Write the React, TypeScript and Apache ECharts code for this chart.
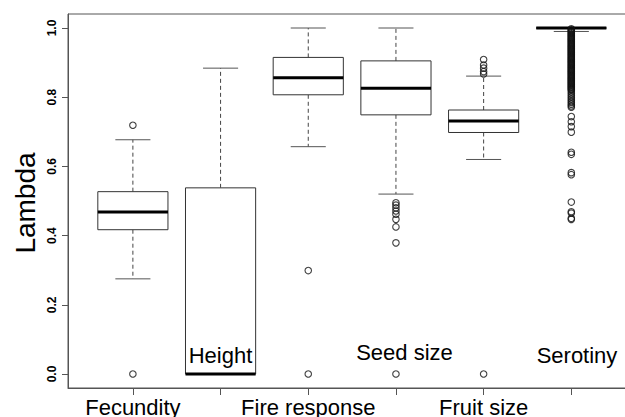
import React, { useEffect, useRef } from "react";
import * as echarts from "echarts";

const categories = ["Fecundity", "Height", "Fire response", "Seed size", "Fruit size", "Serotiny"];
const whiskerLow = [0.275, 0.0, 0.657, 0.52, 0.62, 0.99];
const q1 = [0.417, 0.0, 0.807, 0.749, 0.698, 1.0];
const median = [0.468, 0.0, 0.856, 0.826, 0.731, 1.0];
const q3 = [0.527, 0.538, 0.915, 0.905, 0.763, 1.0];
const whiskerHigh = [0.677, 0.884, 1.0, 1.0, 0.861, 1.0];

const fecundityOutliers = [0.719, 0.0];
const heightOutliers: number[] = [];
const fireOutliers = [0.299, 0.0];
const seedOutliers = [0.495, 0.488, 0.48, 0.471, 0.462, 0.447, 0.425, 0.379, 0.0];
const fruitOutliers = [0.909, 0.893, 0.884, 0.874, 0.867, 0.0];
const serotinyOutliers = [
  0.9975, 0.995, 0.9925, 0.99, 0.9875, 0.985, 0.9825, 0.98, 0.9775, 0.975, 0.9725, 0.97,
  0.9675, 0.965, 0.9625, 0.96, 0.9575, 0.955, 0.9525, 0.95, 0.9475, 0.945, 0.9425, 0.94,
  0.9375, 0.935, 0.9325, 0.93, 0.9275, 0.925, 0.9225, 0.92, 0.9175, 0.915, 0.9125, 0.91,
  0.9075, 0.905, 0.9025, 0.9, 0.8975, 0.895, 0.8925, 0.89, 0.8875, 0.885, 0.8825, 0.88,
  0.8775, 0.875, 0.8725, 0.87, 0.8675, 0.865, 0.8625, 0.86, 0.8575, 0.855, 0.8525, 0.85,
  0.8475, 0.845, 0.8425, 0.84, 0.8375, 0.835, 0.8325, 0.83, 0.8275, 0.825, 0.8225, 0.82,
  0.815, 0.81, 0.805, 0.8, 0.795, 0.79, 0.785, 0.78, 0.775, 0.771, 0.744, 0.729, 0.715,
  0.699, 0.641, 0.635, 0.582, 0.576, 0.497, 0.469, 0.465, 0.45, 0.447,
];
const outliers = [fecundityOutliers, heightOutliers, fireOutliers, seedOutliers, fruitOutliers, serotinyOutliers];

const shownXLabels = ["Fecundity", "Fire response", "Fruit size"];

const FONT = "'Liberation Sans', Arial, sans-serif";
const AXIS_COLOR = "#555";

export default function App() {
  const ref = useRef<HTMLDivElement>(null);
  useEffect(() => {
    if (!ref.current) return;
    const chart = echarts.init(ref.current, null, { renderer: "svg" });
    const boxData = categories.map((_, i) => [i + 1, whiskerLow[i], q1[i], median[i], q3[i], whiskerHigh[i]]);
    const outlierData: number[][] = [];
    outliers.forEach((arr, i) => arr.forEach((v) => outlierData.push([i + 1, v])));
    chart.setOption({
      animation: false,
      grid: [
        {
          left: 68,
          top: 14,
          width: 591,
          height: 374,
          outerBoundsMode: "none",
          show: true,
          borderColor: AXIS_COLOR,
          borderWidth: 1,
          backgroundColor: "rgba(0,0,0,0)",
        },
        { left: 132.9, top: 14, width: 438.5, height: 374, outerBoundsMode: "none" },
        { left: 68, top: 28, width: 100, height: 346, outerBoundsMode: "none" },
      ],
      xAxis: [
        {
          gridIndex: 0,
          type: "value",
          min: 0.26,
          max: 7.0,
          splitLine: { show: false },
          axisLine: { show: true, onZero: false, lineStyle: { color: AXIS_COLOR, width: 1 } },
          axisTick: { show: false },
          axisLabel: { show: false },
        },
        {
          gridIndex: 1,
          type: "value",
          min: 1,
          max: 6,
          interval: 1,
          splitLine: { show: false },
          axisLine: { show: false },
          axisTick: { show: true, length: 7, lineStyle: { color: AXIS_COLOR } },
          axisLabel: {
            formatter: (v: number) => {
              const name = categories[Math.round(v) - 1] || "";
              return shownXLabels.indexOf(name) >= 0 ? name : "";
            },
            fontSize: 22,
            color: "#000",
            fontFamily: FONT,
            margin: 8,
          },
        },
        { gridIndex: 2, type: "value", min: 0, max: 1, show: false },
      ],
      yAxis: [
        {
          gridIndex: 0,
          type: "value",
          min: -0.0405,
          max: 1.0405,
          splitLine: { show: false },
          axisLine: { show: true, onZero: false, lineStyle: { color: AXIS_COLOR, width: 1 } },
          axisTick: { show: false },
          axisLabel: { show: false },
        },
        { gridIndex: 1, type: "value", min: 0, max: 1, show: false },
        {
          gridIndex: 2,
          type: "value",
          min: 0,
          max: 1,
          interval: 0.2,
          splitLine: { show: false },
          axisLine: { show: false },
          axisTick: { show: true, length: 6, lineStyle: { color: AXIS_COLOR } },
          axisLabel: {
            formatter: (v: number) => v.toFixed(1),
            rotate: 90,
            fontSize: 12,
            fontWeight: "bold",
            color: "#000",
            fontFamily: FONT,
            margin: 10,
          },
        },
      ],
      graphic: [
        {
          type: "text",
          x: 25,
          y: 203,
          rotation: Math.PI / 2,
          style: { text: "Lambda", fontSize: 28, fontFamily: FONT, fill: "#000", align: "center", verticalAlign: "middle" },
        },
        {
          type: "text",
          x: 220.5,
          y: 355.5,
          style: { text: "Height", fontSize: 22, fontFamily: FONT, fill: "#000", align: "center", verticalAlign: "middle" },
          z: 100,
        },
        {
          type: "text",
          x: 404.5,
          y: 352.5,
          style: { text: "Seed size", fontSize: 22, fontFamily: FONT, fill: "#000", align: "center", verticalAlign: "middle" },
          z: 100,
        },
        {
          type: "text",
          x: 577,
          y: 355.5,
          style: { text: "Serotiny", fontSize: 22, fontFamily: FONT, fill: "#000", align: "center", verticalAlign: "middle" },
          z: 100,
        },
      ],
      series: [
        {
          type: "custom",
          xAxisIndex: 0,
          yAxisIndex: 0,
          data: boxData,
          encode: { x: 0, y: [1, 2, 3, 4, 5] },
          z: 2,
          renderItem: (params: any, api: any) => {
            const x = api.value(0);
            const low = api.coord([x, api.value(1)]);
            const b1 = api.coord([x, api.value(2)]);
            const med = api.coord([x, api.value(3)]);
            const b3 = api.coord([x, api.value(4)]);
            const high = api.coord([x, api.value(5)]);
            const cx = low[0];
            const half = api.size([0.4, 0])[0];
            const capHalf = api.size([0.2, 0])[0];
            const dash = { stroke: "#444", lineWidth: 1, lineDash: [4, 3] };
            return {
              type: "group",
              children: [
                { type: "line", shape: { x1: cx, y1: b3[1], x2: cx, y2: high[1] }, style: dash },
                { type: "line", shape: { x1: cx, y1: b1[1], x2: cx, y2: low[1] }, style: dash },
                { type: "line", shape: { x1: cx - capHalf, y1: high[1], x2: cx + capHalf, y2: high[1] }, style: { stroke: "#555", lineWidth: 1 } },
                { type: "line", shape: { x1: cx - capHalf, y1: low[1], x2: cx + capHalf, y2: low[1] }, style: { stroke: "#555", lineWidth: 1 } },
                {
                  type: "rect",
                  shape: { x: cx - half, y: b3[1], width: 2 * half, height: b1[1] - b3[1] },
                  style: { fill: "#fff", stroke: "#333", lineWidth: 1 },
                },
                { type: "line", shape: { x1: cx - half, y1: med[1], x2: cx + half, y2: med[1] }, style: { stroke: "#000", lineWidth: 3 } },
              ],
            };
          },
        },
        {
          type: "scatter",
          xAxisIndex: 0,
          yAxisIndex: 0,
          data: outlierData,
          symbol: "circle",
          symbolSize: 6.5,
          z: 5,
          itemStyle: { color: "rgba(0,0,0,0)", borderColor: "#111", borderWidth: 1.1 },
        },
      ],
    });
    return () => chart.dispose();
  }, []);
  return <div ref={ref} style={{ position: "absolute", left: 0, top: 0, width: 625, height: 417 }} />;
}
